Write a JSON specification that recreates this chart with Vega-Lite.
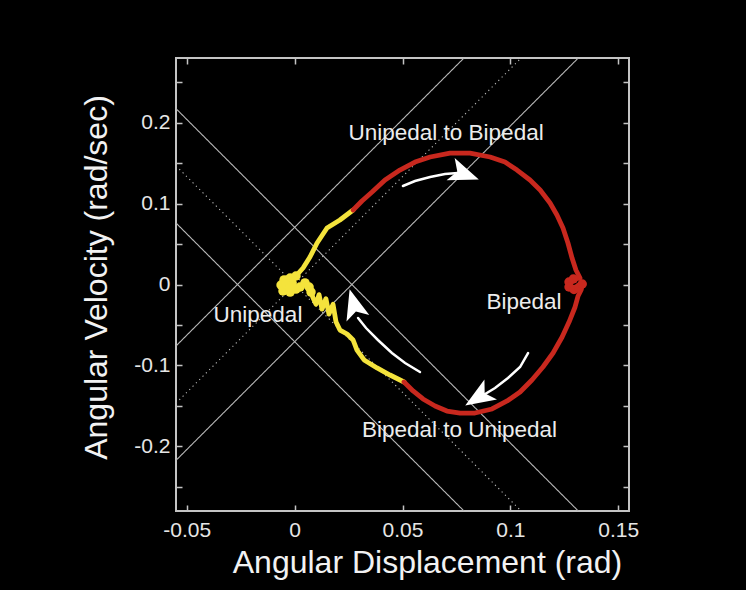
{
  "$schema": "https://vega.github.io/schema/vega-lite/v6.json",
  "width": 453,
  "height": 453,
  "autosize": {"type": "none"},
  "padding": {"left": 176, "top": 58, "right": 117, "bottom": 79},
  "background": "#000000",
  "config": {
    "font": "Liberation Sans",
    "view": {"stroke": "#c4c4c4", "strokeWidth": 2},
    "axis": {
      "grid": false,
      "domain": false,
      "ticks": true,
      "tickColor": "#c4c4c4",
      "tickWidth": 1.5,
      "tickSize": -6,
      "labelFont": "Liberation Sans",
      "labelFontSize": 21,
      "labelColor": "#e6e6e6",
      "titleFont": "Liberation Sans",
      "titleFontSize": 32,
      "titleFontWeight": "normal",
      "titleColor": "#f2f2f2"
    }
  },
  "datasets": {
    "guides": [
      {"line": "p1", "style": "solid", "x": -0.055, "y": -0.076},
      {"line": "p1", "style": "solid", "x": 0.0785, "y": 0.28},
      {"line": "p2", "style": "dotted", "x": -0.055, "y": -0.1467},
      {"line": "p2", "style": "dotted", "x": 0.105, "y": 0.28},
      {"line": "p3", "style": "solid", "x": -0.055, "y": -0.2174},
      {"line": "p3", "style": "solid", "x": 0.1315, "y": 0.28},
      {"line": "n1", "style": "solid", "x": -0.055, "y": 0.076},
      {"line": "n1", "style": "solid", "x": 0.0785, "y": -0.28},
      {"line": "n2", "style": "dotted", "x": -0.055, "y": 0.1467},
      {"line": "n2", "style": "dotted", "x": 0.105, "y": -0.28},
      {"line": "n3", "style": "solid", "x": -0.055, "y": 0.2174},
      {"line": "n3", "style": "solid", "x": 0.1315, "y": -0.28}
    ],
    "trajectory": [
      {"phase": "single", "i": 0, "x": 0.0271, "y": 0.0921},
      {"phase": "single", "i": 1, "x": 0.021, "y": 0.0797},
      {"phase": "single", "i": 2, "x": 0.015, "y": 0.0698},
      {"phase": "single", "i": 3, "x": 0.0104, "y": 0.0513},
      {"phase": "single", "i": 4, "x": 0.0071, "y": 0.034},
      {"phase": "single", "i": 5, "x": 0.0039, "y": 0.0204},
      {"phase": "single", "i": 6, "x": 0.0006, "y": 0.0105},
      {"phase": "single", "i": 7, "x": -0.0021, "y": 0.008},
      {"phase": "single", "i": 8, "x": -0.0049, "y": 0.0056},
      {"phase": "single", "i": 9, "x": -0.0063, "y": -0.0006},
      {"phase": "single", "i": 10, "x": -0.0054, "y": -0.008},
      {"phase": "single", "i": 11, "x": -0.0021, "y": -0.0093},
      {"phase": "single", "i": 12, "x": 0.0006, "y": -0.0056},
      {"phase": "single", "i": 13, "x": -0.0012, "y": 0.0019},
      {"phase": "single", "i": 14, "x": -0.004, "y": 0.0006},
      {"phase": "single", "i": 15, "x": -0.0021, "y": -0.0043},
      {"phase": "single", "i": 16, "x": 0.0025, "y": -0.0031},
      {"phase": "single", "i": 17, "x": 0.0048, "y": 0.0019},
      {"phase": "single", "i": 18, "x": 0.0067, "y": -0.0031},
      {"phase": "single", "i": 19, "x": 0.0076, "y": -0.0093},
      {"phase": "single", "i": 20, "x": 0.0085, "y": -0.0165},
      {"phase": "single", "i": 21, "x": 0.0099, "y": -0.0245},
      {"phase": "single", "i": 22, "x": 0.0113, "y": -0.0125},
      {"phase": "single", "i": 23, "x": 0.0127, "y": -0.0305},
      {"phase": "single", "i": 24, "x": 0.0145, "y": -0.0175},
      {"phase": "single", "i": 25, "x": 0.0159, "y": -0.0365},
      {"phase": "single", "i": 26, "x": 0.0178, "y": -0.0245},
      {"phase": "single", "i": 27, "x": 0.0192, "y": -0.0464},
      {"phase": "single", "i": 28, "x": 0.021, "y": -0.0563},
      {"phase": "single", "i": 29, "x": 0.0243, "y": -0.0612},
      {"phase": "single", "i": 30, "x": 0.0271, "y": -0.0686},
      {"phase": "single", "i": 31, "x": 0.0289, "y": -0.081},
      {"phase": "single", "i": 32, "x": 0.0322, "y": -0.0933},
      {"phase": "single", "i": 33, "x": 0.0382, "y": -0.1032},
      {"phase": "single", "i": 34, "x": 0.0442, "y": -0.1119},
      {"phase": "single", "i": 35, "x": 0.0507, "y": -0.1205},
      {"phase": "double", "i": 0, "x": 0.0271, "y": 0.0921},
      {"phase": "double", "i": 1, "x": 0.0312, "y": 0.1032},
      {"phase": "double", "i": 2, "x": 0.0359, "y": 0.1143},
      {"phase": "double", "i": 3, "x": 0.0419, "y": 0.1292},
      {"phase": "double", "i": 4, "x": 0.0488, "y": 0.1415},
      {"phase": "double", "i": 5, "x": 0.0558, "y": 0.1514},
      {"phase": "double", "i": 6, "x": 0.0628, "y": 0.1576},
      {"phase": "double", "i": 7, "x": 0.072, "y": 0.1625},
      {"phase": "double", "i": 8, "x": 0.0813, "y": 0.1625},
      {"phase": "double", "i": 9, "x": 0.0906, "y": 0.1576},
      {"phase": "double", "i": 10, "x": 0.0975, "y": 0.1514},
      {"phase": "double", "i": 11, "x": 0.1031, "y": 0.1415},
      {"phase": "double", "i": 12, "x": 0.1091, "y": 0.1292},
      {"phase": "double", "i": 13, "x": 0.1138, "y": 0.1168},
      {"phase": "double", "i": 14, "x": 0.1184, "y": 0.1007},
      {"phase": "double", "i": 15, "x": 0.1216, "y": 0.0859},
      {"phase": "double", "i": 16, "x": 0.1244, "y": 0.0698},
      {"phase": "double", "i": 17, "x": 0.1267, "y": 0.0513},
      {"phase": "double", "i": 18, "x": 0.1286, "y": 0.0327},
      {"phase": "double", "i": 19, "x": 0.1304, "y": 0.0179},
      {"phase": "double", "i": 20, "x": 0.1323, "y": 0.008},
      {"phase": "double", "i": 21, "x": 0.1292, "y": 0.0068},
      {"phase": "double", "i": 22, "x": 0.1272, "y": 0.0031},
      {"phase": "double", "i": 23, "x": 0.1272, "y": -0.0031},
      {"phase": "double", "i": 24, "x": 0.1295, "y": -0.0062},
      {"phase": "double", "i": 25, "x": 0.1318, "y": -0.0037},
      {"phase": "double", "i": 26, "x": 0.1333, "y": 0.0006},
      {"phase": "double", "i": 27, "x": 0.1328, "y": -0.0068},
      {"phase": "double", "i": 28, "x": 0.1314, "y": -0.0142},
      {"phase": "double", "i": 29, "x": 0.13, "y": -0.0278},
      {"phase": "double", "i": 30, "x": 0.1272, "y": -0.0464},
      {"phase": "double", "i": 31, "x": 0.124, "y": -0.0649},
      {"phase": "double", "i": 32, "x": 0.1198, "y": -0.0847},
      {"phase": "double", "i": 33, "x": 0.1151, "y": -0.102},
      {"phase": "double", "i": 34, "x": 0.11, "y": -0.118},
      {"phase": "double", "i": 35, "x": 0.1045, "y": -0.1329},
      {"phase": "double", "i": 36, "x": 0.0985, "y": -0.144},
      {"phase": "double", "i": 37, "x": 0.0915, "y": -0.1539},
      {"phase": "double", "i": 38, "x": 0.0836, "y": -0.1589},
      {"phase": "double", "i": 39, "x": 0.0767, "y": -0.1589},
      {"phase": "double", "i": 40, "x": 0.0706, "y": -0.1564},
      {"phase": "double", "i": 41, "x": 0.0651, "y": -0.1502},
      {"phase": "double", "i": 42, "x": 0.0595, "y": -0.1415},
      {"phase": "double", "i": 43, "x": 0.0549, "y": -0.1316},
      {"phase": "double", "i": 44, "x": 0.0507, "y": -0.1205}
    ],
    "arrows": [
      {"arrow": "a1", "i": 0, "x": 0.0502, "y": 0.1218},
      {"arrow": "a1", "i": 1, "x": 0.0558, "y": 0.1279},
      {"arrow": "a1", "i": 2, "x": 0.0628, "y": 0.1329},
      {"arrow": "a1", "i": 3, "x": 0.0697, "y": 0.1366},
      {"arrow": "a1", "i": 4, "x": 0.0757, "y": 0.1378},
      {"arrow": "a2", "i": 0, "x": 0.1082, "y": -0.0847},
      {"arrow": "a2", "i": 1, "x": 0.1045, "y": -0.102},
      {"arrow": "a2", "i": 2, "x": 0.0989, "y": -0.1156},
      {"arrow": "a2", "i": 3, "x": 0.0929, "y": -0.1279},
      {"arrow": "a2", "i": 4, "x": 0.0883, "y": -0.1353},
      {"arrow": "a3", "i": 0, "x": 0.0581, "y": -0.1082},
      {"arrow": "a3", "i": 1, "x": 0.0512, "y": -0.0971},
      {"arrow": "a3", "i": 2, "x": 0.0451, "y": -0.0847},
      {"arrow": "a3", "i": 3, "x": 0.0386, "y": -0.0686},
      {"arrow": "a3", "i": 4, "x": 0.0331, "y": -0.0538},
      {"arrow": "a3", "i": 5, "x": 0.0294, "y": -0.0414}
    ],
    "heads": [
      {"arrow": "a1", "x": 0.0785, "y": 0.1366, "angle": 110},
      {"arrow": "a2", "x": 0.0853, "y": -0.1391, "angle": 238},
      {"arrow": "a3", "x": 0.0275, "y": -0.0248, "angle": 344}
    ],
    "labels": [
      {"text": "Unipedal to Bipedal", "x": 0.0702, "y": 0.1873},
      {"text": "Bipedal", "x": 0.1063, "y": -0.0216},
      {"text": "Unipedal", "x": -0.017, "y": -0.0377},
      {"text": "Bipedal to Unipedal", "x": 0.0764, "y": -0.1799}
    ]
  },
  "layer": [
    {
      "data": {"name": "guides"},
      "mark": {"type": "line", "color": "#b8b8b8", "strokeWidth": 1.1, "clip": true},
      "encoding": {
        "x": {
          "field": "x", "type": "quantitative",
          "scale": {"domain": [-0.055, 0.155], "nice": false, "zero": false},
          "axis": {
            "orient": "bottom",
            "values": [-0.05, 0, 0.05, 0.1, 0.15],
            "labelExpr": "datum.value == 0 ? '0' : replace(format(datum.value, '~g'), '\u2212', '-')",
            "labelPadding": 14,
            "title": "Angular Displacement (rad)",
            "titleX": 251,
            "titleY": 61,
            "titleAlign": "center",
            "titleBaseline": "alphabetic"
          }
        },
        "y": {
          "field": "y", "type": "quantitative",
          "scale": {"domain": [-0.28, 0.28], "nice": false, "zero": false},
          "axis": {
            "orient": "left",
            "values": [-0.25, -0.2, -0.15, -0.1, -0.05, 0, 0.05, 0.1, 0.15, 0.2, 0.25],
            "labelExpr": "abs(round(datum.value * 20)) % 2 == 1 ? '' : (datum.value == 0 ? '0' : replace(format(datum.value, '.1f'), '\u2212', '-'))",
            "labelPadding": 12,
            "title": "Angular Velocity (rad/sec)",
            "titleAngle": 270,
            "titleX": -70,
            "titleY": 219,
            "titleAlign": "center",
            "titleBaseline": "alphabetic"
          }
        },
        "detail": {"field": "line"},
        "strokeDash": {
          "field": "style", "type": "nominal",
          "scale": {"domain": ["solid", "dotted"], "range": [[1, 0], [1.2, 3.5]]},
          "legend": null
        }
      }
    },
    {
      "data": {"name": "trajectory"},
      "mark": {"type": "line", "strokeWidth": 4.8, "strokeCap": "round", "strokeJoin": "round", "clip": true},
      "encoding": {
        "x": {"field": "x", "type": "quantitative", "axis": {"orient": "top", "values": [-0.05, 0, 0.05, 0.1, 0.15], "labels": false, "title": null}},
        "y": {"field": "y", "type": "quantitative", "axis": {"orient": "right", "values": [-0.25, -0.2, -0.15, -0.1, -0.05, 0, 0.05, 0.1, 0.15, 0.2, 0.25], "labels": false, "title": null}},
        "detail": {"field": "phase"},
        "order": {"field": "i", "type": "quantitative"},
        "color": {
          "field": "phase", "type": "nominal",
          "scale": {"domain": ["single", "double"], "range": ["#f4e33c", "#c8281e"]},
          "legend": null
        }
      }
    },
    {
      "data": {"name": "trajectory"},
      "transform": [
        {"filter": "(datum.phase == 'single' && datum.i >= 6 && datum.i <= 19) || (datum.phase == 'double' && datum.i >= 21 && datum.i <= 26)"}
      ],
      "mark": {"type": "circle", "size": 90, "opacity": 1},
      "encoding": {
        "x": {"field": "x", "type": "quantitative", "axis": null},
        "y": {"field": "y", "type": "quantitative", "axis": null},
        "color": {
          "field": "phase", "type": "nominal",
          "scale": {"domain": ["single", "double"], "range": ["#f4e33c", "#c8281e"]},
          "legend": null
        }
      }
    },
    {
      "data": {"name": "arrows"},
      "mark": {"type": "line", "color": "#ffffff", "strokeWidth": 2.5, "strokeCap": "round"},
      "encoding": {
        "x": {"field": "x", "type": "quantitative", "axis": null},
        "y": {"field": "y", "type": "quantitative", "axis": null},
        "detail": {"field": "arrow"},
        "order": {"field": "i", "type": "quantitative"}
      }
    },
    {
      "data": {"name": "heads"},
      "mark": {
        "type": "point",
        "shape": "M0,-1L0.75,0.9L0,0.45L-0.75,0.9Z",
        "filled": true,
        "color": "#ffffff",
        "opacity": 1,
        "size": 1000
      },
      "encoding": {
        "x": {"field": "x", "type": "quantitative", "axis": null},
        "y": {"field": "y", "type": "quantitative", "axis": null},
        "angle": {"field": "angle", "type": "quantitative", "scale": null}
      }
    },
    {
      "data": {"name": "labels"},
      "mark": {"type": "text", "font": "Liberation Sans", "fontSize": 22.5, "color": "#ececec", "align": "center", "baseline": "middle"},
      "encoding": {
        "x": {"field": "x", "type": "quantitative", "axis": null},
        "y": {"field": "y", "type": "quantitative", "axis": null},
        "text": {"field": "text"}
      }
    }
  ],
  "resolve": {"axis": {"x": "independent", "y": "independent"}}
}
